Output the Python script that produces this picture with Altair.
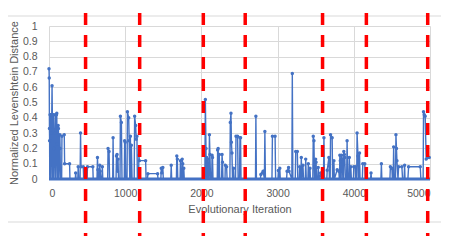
import altair as alt
import pandas as pd

# Series (iteration, normalized Levenshtein distance)
iterations = [
    0, 3, 6, 8, 10, 14, 22, 24, 27, 40, 44, 48, 56, 62, 66, 80, 84, 88,
    98, 102, 106, 110, 120, 124, 128, 142, 146, 150, 166, 170, 200, 205, 270, 275,
    345, 350, 356, 378, 383, 390, 408, 414, 420, 450, 455, 500, 505, 575, 580,
    630, 636, 642, 650, 660, 666, 672, 680, 695, 700, 706,
    770, 775, 788, 795, 836, 841, 847, 880, 885, 893, 900, 906, 912,
    932, 937, 950, 958, 988, 993, 1000, 1006,
    1024, 1029, 1046, 1052, 1060, 1068, 1075, 1081, 1090,
    1118, 1124, 1137, 1145, 1154, 1160,
    1175, 1180, 1186, 1268, 1274, 1292, 1298, 1425, 1430,
    1468, 1473, 1480, 1494, 1500, 1598, 1604, 1610, 1672, 1677, 1684, 1690,
    1720, 1725, 1730, 1743, 1748, 1755, 1762, 1769, 1775,
    2045, 2052, 2060, 2064, 2069, 2075, 2082, 2090, 2100, 2105, 2112, 2120,
    2135, 2140, 2146, 2152, 2208, 2213, 2220, 2226, 2235, 2240,
    2265, 2271, 2277, 2283, 2310, 2314, 2331, 2337,
    2374, 2379, 2388, 2394, 2401, 2408, 2422, 2428,
    2448, 2454, 2475, 2482, 2500, 2506, 2514, 2520,
    2710, 2715, 2722, 2775, 2780, 2800, 2810, 2827, 2833, 2840,
    2926, 2932, 2967, 2974, 3005, 3010, 3016, 3024, 3029, 3035,
    3118, 3124, 3144, 3150, 3187, 3193, 3200, 3232, 3238, 3259, 3265,
    3285, 3290, 3296, 3305, 3311, 3318, 3333, 3340, 3364, 3369, 3376,
    3398, 3403, 3410, 3425, 3431, 3462, 3468, 3477, 3484,
    3494, 3499, 3505, 3512, 3528, 3533, 3540, 3565, 3571,
    3602, 3608, 3615, 3646, 3651, 3673, 3680, 3690, 3695, 3716, 3722,
    3734, 3739, 3745, 3782, 3804, 3810, 3812, 3817, 3823, 3830,
    3834, 3839, 3850, 3856, 3864, 3869, 3876, 3882, 3890,
    3906, 3912, 3920, 3936, 3941, 3948, 3961, 3968,
    3995, 4000, 4020, 4026, 4038, 4043, 4055, 4062, 4070, 4075, 4082,
    4112, 4118, 4144, 4150,
    4220, 4226, 4232, 4356, 4362, 4368, 4474, 4480, 4500, 4506,
    4517, 4523, 4530, 4547, 4553, 4560, 4566, 4580, 4588, 4631, 4640,
    4660, 4667, 4672, 4710, 4719, 4872, 4880,
    4910, 4915, 4925, 4937, 4950, 4971, 4990,
]
distances = [
    0.72, 0.66, 0.33, 0.25, 0, 0.42, 0.42, 0.30, 0, 0.61, 0.42, 0, 0.42, 0.20, 0, 0.42, 0.30, 0,
    0.42, 0.43, 0.23, 0, 0.35, 0.33, 0, 0.29, 0.20, 0, 0, 0.28, 0.29, 0.10, 0.10, 0,
    0, 0.04, 0, 0, 0.08, 0, 0, 0.30, 0.08, 0.08, 0, 0, 0.08, 0.08, 0,
    0, 0.14, 0.06, 0, 0, 0.09, 0.05, 0, 0, 0.08, 0,
    0, 0.20, 0.18, 0, 0, 0.27, 0, 0, 0.15, 0.16, 0.05, 0.13, 0,
    0, 0.41, 0.37, 0, 0, 0.25, 0.24, 0,
    0, 0.44, 0.40, 0.25, 0, 0.28, 0, 0.22, 0,
    0, 0.41, 0.35, 0.26, 0.28, 0,
    0, 0.155, 0.12, 0.12, 0, 0, 0.035, 0.035, 0,
    0, 0.07, 0.04, 0.075, 0, 0, 0.09, 0, 0, 0.15, 0.13, 0,
    0, 0.12, 0, 0, 0.13, 0.10, 0, 0.07, 0,
    0, 0.52, 0.20, 0, 0.14, 0, 0.13, 0, 0, 0.29, 0.16, 0,
    0, 0.155, 0.14, 0, 0, 0.19, 0.20, 0, 0.16, 0,
    0, 0.16, 0.11, 0, 0, 0.09, 0.08, 0,
    0, 0.37, 0.43, 0.24, 0.17, 0, 0.07, 0,
    0, 0.28, 0.28, 0, 0, 0.27, 0.27, 0,
    0, 0.41, 0, 0, 0.03, 0.04, 0.05, 0, 0.31, 0,
    0, 0.28, 0.28, 0, 0, 0.055, 0, 0, 0.07, 0,
    0, 0.05, 0.075, 0.05, 0, 0.69, 0, 0, 0.18, 0.18, 0,
    0, 0.08, 0, 0, 0.14, 0, 0.09, 0, 0, 0.13, 0,
    0, 0.10, 0, 0.07, 0, 0, 0.28, 0.25, 0,
    0, 0.13, 0.11, 0, 0, 0.075, 0, 0.04, 0,
    0, 0.27, 0, 0, 0.057, 0.14, 0, 0, 0.29, 0.27, 0,
    0, 0.12, 0, 0.06, 0.05, 0, 0, 0.155, 0.12, 0,
    0, 0.155, 0.13, 0, 0, 0.18, 0.16, 0.14, 0,
    0, 0.25, 0, 0, 0.14, 0, 0.08, 0,
    0, 0.08, 0.08, 0, 0, 0.30, 0.15, 0, 0, 0.17, 0,
    0, 0.10, 0.10, 0,
    0, 0.04, 0, 0, 0.10, 0, 0, 0.08, 0.07, 0,
    0, 0.21, 0, 0, 0.29, 0.20, 0.12, 0, 0.08, 0.08, 0,
    0, 0.09, 0, 0, 0.08, 0.08, 0,
    0, 0.44, 0.42, 0.41, 0.13, 0.14, 0.14,
]

boundaries = [480, 1190, 2025, 2575, 3590, 4165, 4970]
x_ticks = [0, 1000, 2000, 3000, 4000, 5000]
y_ticks = [round(i / 10, 1) for i in range(11)]

BLUE = "#4472C4"
GRID = "#D9D9D9"
TEXT = "#595959"
FONT = "Liberation Sans"

df = pd.DataFrame({
    "iteration": iterations,
    "distance": distances,
    "order": list(range(len(iterations))),
})
nonzero = df[df["distance"] > 0]
bounds_df = pd.DataFrame({"iteration": boundaries})
base_df = pd.DataFrame({"iteration": [x_ticks[0]], "x2": [x_ticks[-1]], "distance": [0]})
frame_df = pd.DataFrame({"k": [0]})

xscale = alt.Scale(domain=[x_ticks[0], x_ticks[-1]], nice=False)
yscale = alt.Scale(domain=[y_ticks[0], y_ticks[-1]], nice=False)

xaxis = alt.Axis(
    values=x_ticks, format="d", grid=True, gridColor=GRID, gridWidth=1,
    domain=False, ticks=False, labelFont=FONT, labelFontSize=10.5, labelColor=TEXT,
    labelPadding=9, labelOverlap=False, title="Evolutionary Iteration", titleFont=FONT,
    titleFontSize=11, titleFontWeight="normal", titleColor=TEXT,
    titleY=30, titleBaseline="middle",
)
yaxis = alt.Axis(
    values=y_ticks, grid=True, gridColor=GRID, gridWidth=1,
    labelExpr="datum.value == 0 ? '0' : (datum.value == 1 ? '1' : format(datum.value, '.1f'))",
    domain=False, ticks=False, labelFont=FONT, labelFontSize=10.5, labelColor=TEXT,
    labelPadding=12, labelOverlap=False, title="Normalized Levenshtein Distance", titleFont=FONT,
    titleFontSize=11, titleFontWeight="normal", titleColor=TEXT,
    titleX=-35, titleBaseline="middle",
)

frame = alt.Chart(frame_df).mark_rect(
    fillOpacity=0, stroke=GRID, strokeWidth=1
).encode(
    x=alt.value(-60), x2=alt.value(420), y=alt.value(-10), y2=alt.value(196)
)

baseline = alt.Chart(base_df).mark_rule(color=BLUE, strokeWidth=3).encode(
    x=alt.X("iteration:Q", scale=xscale, axis=xaxis),
    x2="x2:Q",
    y=alt.Y("distance:Q", scale=yscale, axis=yaxis),
)

line = alt.Chart(df).mark_line(color=BLUE, strokeWidth=1.4).encode(
    x=alt.X("iteration:Q", scale=xscale, axis=xaxis),
    y=alt.Y("distance:Q", scale=yscale, axis=yaxis),
    order="order:Q",
)

points = alt.Chart(nonzero).mark_point(
    filled=True, color=BLUE, size=12, opacity=1
).encode(
    x=alt.X("iteration:Q", scale=xscale, axis=xaxis),
    y=alt.Y("distance:Q", scale=yscale, axis=yaxis),
)

redlines = alt.Chart(bounds_df).mark_rule(
    color="#FF0000", strokeWidth=3.5, strokeDash=[12, 10]
).encode(
    x=alt.X("iteration:Q", scale=xscale, axis=xaxis),
    y=alt.value(-35),
    y2=alt.value(218),
)

chart = alt.layer(frame, baseline, line, points, redlines).properties(
    width=381,
    height=153,
    padding={"left": 41, "top": 18, "right": 11, "bottom": 57},
    autosize=alt.AutoSizeParams(type="none"),
    background="white",
).configure_view(strokeWidth=0)

chart.save("out.html", embed_options={"renderer": "svg", "actions": False})
